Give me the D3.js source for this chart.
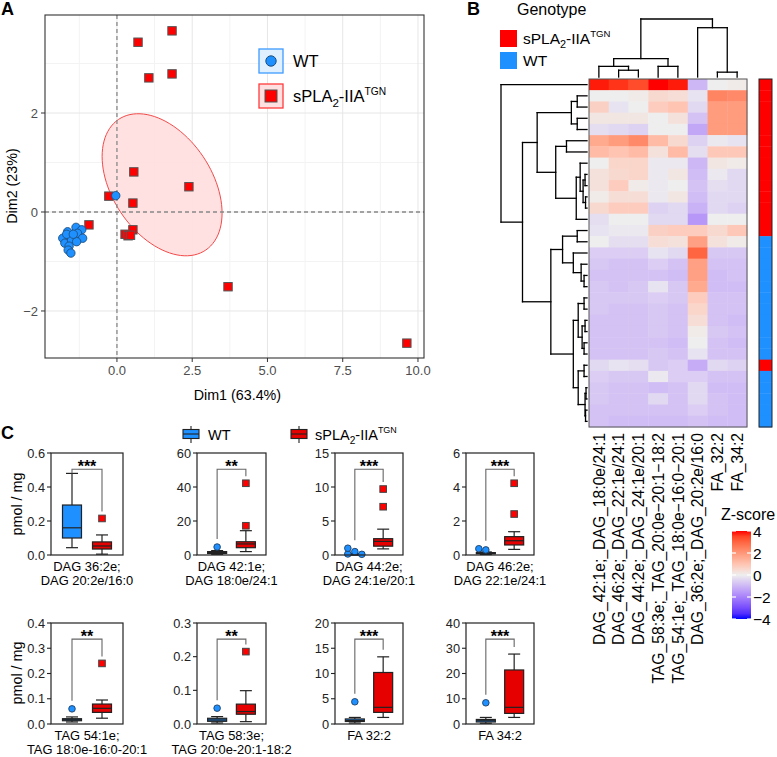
<!DOCTYPE html>
<html><head><meta charset="utf-8">
<script src="https://cdn.jsdelivr.net/npm/d3@7"></script>
<style>
body{margin:0;background:#fff}
svg text{font-family:"Liberation Sans",Arimo,Arial,Helvetica,sans-serif}
</style></head>
<body><svg id="c" width="777" height="757"></svg>
<script>
// ================= DATA =================
// Panel A: PCA individuals
const pcaTG = [[0.70,3.43],[1.83,3.66],[1.06,2.71],[1.83,2.79],[0.56,0.81],[2.39,0.51],[-0.27,0.32],[0.53,0.18],[-0.93,-0.26],[0.27,-0.45],[0.37,-0.48],[0.53,-0.36],[3.69,-1.51],[9.63,-2.65],[0.45,-0.47]];
const pcaWT = [[-0.04,0.33],[-1.36,-0.31],[-1.64,-0.40],[-1.17,-0.36],[-1.80,-0.53],[-1.56,-0.51],[-1.31,-0.43],[-1.14,-0.53],[-1.73,-0.63],[-1.51,-0.57],[-1.34,-0.60],[-1.59,-0.69],[-1.62,-0.77],[-1.53,-0.83],[-1.67,-0.45],[-1.45,-0.45]];
const ellipseCenter = [1.50, 0.55];
const ellipseShape = [[3.97,-1.14],[-1.14,2.06]];
const pcaXTicks = [0,2.5,5,7.5,10];
const pcaYTicks = [-2,0,2];

// Panel B: heatmap
const heatCols = ["DAG_42:1e;_DAG_18:0e/24:1","DAG_46:2e;_DAG_22:1e/24:1","DAG_44:2e;_DAG_24:1e/20:1","TAG_58:3e;_TAG_20:0e\u221220:1\u221218:2","TAG_54:1e;_TAG_18:0e\u221216:0\u221220:1","DAG_36:2e;_DAG_20:2e/16:0","FA_32:2","FA_34:2"];
const heatZ = [
[3.9,3.7,3.4,4.0,3.9,-1.0,0.0,0.1],
[0.0,0.0,0.1,0.5,0.4,-0.2,2.4,2.3],
[0.7,-0.2,0.0,0.8,1.0,-0.4,1.9,1.9],
[0.2,0.2,0.2,0.0,0.3,-0.8,1.9,1.9],
[-0.3,-0.4,-0.5,0.0,0.0,-1.3,1.9,1.9],
[1.6,1.9,2.3,1.2,0.5,-0.5,-0.1,-0.2],
[1.2,1.0,1.2,0.3,1.2,-0.3,0.9,0.9],
[0.0,0.6,0.6,-0.1,-0.1,-1.0,0.2,0.1],
[0.3,0.5,0.6,-0.1,0.2,-0.9,-0.1,-0.4],
[0.3,0.8,0.1,-0.1,0.0,-0.8,-0.3,-0.4],
[0.1,0.4,0.4,-0.1,0.2,-0.9,-0.4,-0.4],
[0.5,0.8,0.8,-0.5,-0.4,-1.1,-0.4,-0.5],
[-0.3,0.0,0.0,-0.4,-0.4,-1.6,0.0,0.0],
[-0.2,-0.1,-0.1,0.7,0.8,0.8,0.5,0.9],
[0.0,-0.3,-0.3,0.4,0.3,1.8,0.3,0.1],
[-0.6,-0.6,-0.6,-0.2,-0.4,3.0,-0.7,-0.7],
[-0.7,-0.8,-0.8,-0.6,-0.8,1.8,-0.8,-0.8],
[-0.8,-0.8,-0.8,-0.8,-0.9,1.8,-0.9,-0.8],
[-0.7,-0.8,-0.7,-0.2,-0.7,1.6,-0.9,-0.9],
[-0.7,-0.7,-0.7,-0.6,-0.7,0.8,-0.8,-0.8],
[-0.7,-0.8,-0.8,-0.7,-0.8,0.6,-0.8,-0.8],
[-0.8,-0.8,-0.8,-0.7,-0.8,0.4,-0.8,-0.9],
[-0.8,-0.8,-0.8,-0.7,-0.8,0.1,-0.7,-0.8],
[-0.8,-0.8,-0.8,-0.8,-0.9,0.0,-0.8,-0.9],
[-0.8,-0.8,-0.8,-0.7,-0.8,-0.2,-0.8,-0.8],
[-0.4,-0.2,-0.3,-0.7,-0.6,-1.2,-0.4,-0.5],
[-0.6,-0.7,-0.7,-0.1,-0.6,-0.6,-0.8,-0.8],
[-0.7,-0.8,-0.8,-0.9,-0.8,-0.4,-0.9,-0.9],
[-0.7,-0.8,-0.8,-0.4,-0.8,-0.4,-0.8,-0.9],
[-0.8,-0.8,-0.8,-0.8,-0.8,-0.6,-0.8,-0.9],
[-0.8,-0.9,-0.9,-0.9,-0.9,-0.8,-0.9,-0.9]];
const genotype = ["TG","TG","TG","TG","TG","TG","TG","TG","TG","TG","TG","TG","TG","TG","WT","WT","WT","WT","WT","WT","WT","WT","WT","WT","WT","TG","WT","WT","WT","WT","WT"];
// dendrograms: leaves = indices, nodes = {h: merge height, c: children}
const rowTree = {h:88,c:[0,{h:66,c:[
  {h:51,c:[
    {h:16,c:[{h:10,c:[1,2]},{h:10,c:[3,4]}]},
    {h:32,c:[{h:21,c:[5,6]},{h:11,c:[{h:7,c:[7,{h:4,c:[{h:2,c:[8,9]},{h:1.5,c:[10,11]}]}]},12]}]}]},
  {h:37,c:[
    {h:25,c:[{h:10,c:[13,14]},{h:14,c:[15,{h:6,c:[16,{h:3,c:[17,18]}]}]}]},
    {h:14,c:[
      {h:9,c:[{h:3,c:[19,20]},{h:5,c:[{h:2,c:[21,22]},{h:3,c:[23,24]}]}]},
      {h:9,c:[{h:3,c:[25,26]},{h:2,c:[{h:1,c:[27,28]},{h:1.5,c:[29,30]}]}]}]}]}]}]};
const colTree = {h:60,c:[{h:19,c:[{h:11,c:[0,{h:7,c:[1,2]}]},{h:11,c:[3,4]}]},{h:51,c:[5,{h:5,c:[6,7]}]}]};
const zTicks = [4,2,0,-2,-4];

// Panel C: boxplots
const boxLine1 = ["DAG 36:2e;","DAG 42:1e;","DAG 44:2e;","DAG 46:2e;","TAG 54:1e;","TAG 58:3e;","FA 32:2","FA 34:2"];
const boxLine2 = ["DAG 20:2e/16:0","DAG 18:0e/24:1","DAG 24:1e/20:1","DAG 22:1e/24:1","TAG 18:0e-16:0-20:1","TAG 20:0e-20:1-18:2","",""];
const boxYMax = [0.6,60,15,6,0.4,0.3,20,40];
const boxYStep = [0.2,20,5,2,0.1,0.1,5,10];
const boxStars = ["***","**","***","***","**","**","***","***"];
// [whisker low, q1, median, q3, whisker high]
const wtStats = [[0.043,0.10,0.16,0.294,0.48],[0.4,0.9,1.4,2.0,2.6],[0.02,0.06,0.1,0.14,0.2],[0.03,0.07,0.1,0.14,0.18],[0.008,0.013,0.017,0.021,0.028],[0.003,0.008,0.012,0.017,0.022],[0.2,0.5,0.7,1.0,1.3],[0.3,0.8,1.3,1.8,2.6]];
const wtOut = [[],[4.7],[0.5,0.15,1.0,0.1],[0.3,0.37],[0.06],[0.047],[4.4],[8.4]];
const tgStats = [[0.005,0.035,0.053,0.077,0.118],[2.0,4.3,6.5,7.8,14.3],[0.9,1.3,2.0,2.4,3.8],[0.33,0.59,0.84,1.08,1.37],[0.023,0.046,0.062,0.079,0.095],[0.007,0.029,0.037,0.059,0.099],[1.3,2.3,3.3,10.2,13.3],[2.6,4.2,6.6,21.4,27.7]];
const tgOut = [[0.215],[17.2,42.2],[7.1,9.7],[2.41,4.22],[0.240],[0.215],[],[]];

// ================= DRAW =================
const svg = d3.select("#c");
const BLUE = "#1e90ff", RED = "#ff0000", BOXRED = "#e60000";
const fs = s => s;

function splaLabel(sel, size) {
  sel.append("tspan").text("sPLA");
  sel.append("tspan").attr("font-size", fs(size*0.7)).attr("dy", size*0.28).text("2");
  sel.append("tspan").attr("dy", -size*0.28).text("-IIA");
  sel.append("tspan").attr("font-size", fs(size*0.62)).attr("dy", -size*0.42).text("TGN");
}

// ---------- Panel A ----------
const xA = d3.scaleLinear().domain([-2.39,10.2]).range([45,424]);
const yA = d3.scaleLinear().domain([-2.95,3.98]).range([358,15]);
const gA = svg.append("g");
const minorX = [-1.25,1.25,3.75,6.25,8.75], minorY = [-3,-1,1,3];
gA.selectAll(".mx").data(minorX).join("line").attr("x1",d=>xA(d)).attr("x2",d=>xA(d)).attr("y1",15).attr("y2",358).attr("stroke","#f3f3f3");
gA.selectAll(".my").data(minorY.filter(d=>yA(d)>15&&yA(d)<358)).join("line").attr("y1",d=>yA(d)).attr("y2",d=>yA(d)).attr("x1",45).attr("x2",424).attr("stroke","#f3f3f3");
gA.selectAll(".gx").data(pcaXTicks).join("line").attr("x1",d=>xA(d)).attr("x2",d=>xA(d)).attr("y1",15).attr("y2",358).attr("stroke","#e6e6e6");
gA.selectAll(".gy").data(pcaYTicks).join("line").attr("y1",d=>yA(d)).attr("y2",d=>yA(d)).attr("x1",45).attr("x2",424).attr("stroke","#e6e6e6");
// ellipse
const L11 = Math.sqrt(ellipseShape[0][0]);
const L21 = ellipseShape[1][0]/L11;
const L22 = Math.sqrt(ellipseShape[1][1]-L21*L21);
const ellPts = d3.range(0,101).map(i=>{const t=i/100*2*Math.PI; return [ellipseCenter[0]+L11*Math.cos(t), ellipseCenter[1]+L21*Math.cos(t)+L22*Math.sin(t)];});
gA.append("path").attr("d", d3.line().x(d=>xA(d[0])).y(d=>yA(d[1]))(ellPts)+"Z")
  .attr("fill","#ffdede").attr("fill-opacity",0.9).attr("stroke","#f24a4a").attr("stroke-width",1);
// zero lines
gA.append("line").attr("x1",xA(0)).attr("x2",xA(0)).attr("y1",15).attr("y2",358).attr("stroke","#888").attr("stroke-width",1.3).attr("stroke-dasharray","4,3");
gA.append("line").attr("y1",yA(0)).attr("y2",yA(0)).attr("x1",45).attr("x2",424).attr("stroke","#888").attr("stroke-width",1.3).attr("stroke-dasharray","4,3");
// points
gA.selectAll(".sq").data(pcaTG).join("rect").attr("x",d=>xA(d[0])-4.2).attr("y",d=>yA(d[1])-4.2).attr("width",8.4).attr("height",8.4)
  .attr("fill",RED).attr("stroke","#555").attr("stroke-width",1);
gA.selectAll(".ci").data(pcaWT).join("circle").attr("cx",d=>xA(d[0])).attr("cy",d=>yA(d[1])).attr("r",4.2)
  .attr("fill",BLUE).attr("stroke","#1d4f80").attr("stroke-width",0.9);
// border
gA.append("rect").attr("x",45).attr("y",15).attr("width",379).attr("height",343).attr("fill","none").attr("stroke","#333").attr("stroke-width",1.1);
// axes
gA.selectAll(".xt").data(pcaXTicks).join("line").attr("x1",d=>xA(d)).attr("x2",d=>xA(d)).attr("y1",358).attr("y2",362).attr("stroke","#333");
gA.selectAll(".xl").data(pcaXTicks).join("text").attr("x",d=>xA(d)).attr("y",375).attr("text-anchor","middle").attr("font-size",fs(13)).attr("fill","#4d4d4d").text(d3.format(".1f"));
gA.selectAll(".yt").data(pcaYTicks).join("line").attr("y1",d=>yA(d)).attr("y2",d=>yA(d)).attr("x1",41).attr("x2",45).attr("stroke","#333");
gA.selectAll(".yl").data(pcaYTicks).join("text").attr("x",38).attr("y",d=>yA(d)).attr("dy","0.36em").attr("text-anchor","end").attr("font-size",fs(13)).attr("fill","#4d4d4d").text(d=>d<0?"\u2212"+Math.abs(d):d);
gA.append("text").attr("x",xA(4)).attr("y",400).attr("text-anchor","middle").attr("font-size",fs(14.3)).text("Dim1 (63.4%)");
gA.append("text").attr("transform","translate(17,186) rotate(-90)").attr("text-anchor","middle").attr("font-size",fs(14.3)).text("Dim2 (23%)");
// legend
const legA = [{k:"WT",y:61},{k:"TG",y:96}];
legA.forEach(l=>{
  gA.append("rect").attr("x",259).attr("y",l.y-12).attr("width",24).attr("height",24)
    .attr("fill",l.k==="WT"?"#e1f0ff":"#ffe0e0").attr("stroke",l.k==="WT"?"#3d9bff":"#ff3b3b").attr("stroke-width",1.3);
  if(l.k==="WT") gA.append("circle").attr("cx",271).attr("cy",l.y).attr("r",5.2).attr("fill",BLUE).attr("stroke","#1d4f80");
  else gA.append("rect").attr("x",265).attr("y",l.y-6).attr("width",12).attr("height",12).attr("fill",RED).attr("stroke","#555");
  const t = gA.append("text").attr("x",293).attr("y",l.y+6).attr("font-size",fs(16.5));
  if(l.k==="WT") t.text("WT"); else splaLabel(t,16.5);
});
svg.append("text").attr("x",1).attr("y",15).attr("font-size",fs(18)).attr("font-weight","bold").text("A");

// ---------- Panel B ----------
const gB = svg.append("g");
svg.append("text").attr("x",467).attr("y",15).attr("font-size",fs(18)).attr("font-weight","bold").text("B");
const hx = d3.scaleBand().domain(d3.range(heatCols.length)).range([589,747]);
const hy = d3.scaleBand().domain(d3.range(heatZ.length)).range([79,427]);
const zColor = d3.scaleLinear().domain([-4,0,4]).range(["#0000ff","#eeeeee","#ff0000"]).interpolate(d3.interpolateLab).clamp(true);
heatZ.forEach((row,i)=>{
  gB.selectAll(null).data(row).join("rect").attr("x",(d,j)=>hx(j)).attr("y",hy(i)).attr("width",hx.bandwidth()+0.4).attr("height",hy.bandwidth()+0.4).attr("fill",d=>zColor(d));
});
gB.append("rect").attr("x",589).attr("y",79).attr("width",158).attr("height",348).attr("fill","none").attr("stroke","#555").attr("stroke-width",1);
// genotype bar
gB.selectAll(".gt").data(genotype).join("rect").attr("x",759).attr("y",(d,i)=>hy(i)).attr("width",13).attr("height",hy.bandwidth()+0.4).attr("fill",d=>d==="TG"?RED:BLUE);
gB.append("rect").attr("x",759).attr("y",79).attr("width",13).attr("height",348).attr("fill","none").attr("stroke","#222").attr("stroke-width",1);
// dendrograms
function dendroSegs(tree, leafPos){
  const segs=[];
  (function rec(n){
    if(typeof n==="number") return {p:leafPos(n),h:0};
    const k=n.c.map(rec);
    k.forEach(c=>segs.push([[c.p,c.h],[c.p,n.h]]));
    segs.push([[k[0].p,n.h],[k[k.length-1].p,n.h]]);
    return {p:d3.mean(k,c=>c.p),h:n.h};
  })(tree);
  return segs;
}
const rowH = d3.scaleLinear().domain([0,88]).range([587,501]);
const rSegs = dendroSegs(rowTree, i=>hy(i)+hy.bandwidth()/2);
gB.selectAll(".rd").data(rSegs).join("line").attr("x1",d=>rowH(d[0][1])).attr("x2",d=>rowH(d[1][1])).attr("y1",d=>d[0][0]).attr("y2",d=>d[1][0]).attr("stroke","#000").attr("stroke-width",1.3).attr("stroke-linecap","square");
const colH = d3.scaleLinear().domain([0,60]).range([77,19]);
const cSegs = dendroSegs(colTree, j=>hx(j)+hx.bandwidth()/2);
gB.selectAll(".cd").data(cSegs).join("line").attr("y1",d=>colH(d[0][1])).attr("y2",d=>colH(d[1][1])).attr("x1",d=>d[0][0]).attr("x2",d=>d[1][0]).attr("stroke","#000").attr("stroke-width",1.3).attr("stroke-linecap","square");
// column labels
gB.selectAll(".cl").data(heatCols).join("text").attr("transform",(d,j)=>`translate(${hx(j)+hx.bandwidth()/2},433) rotate(-90)`)
  .attr("text-anchor","end").attr("dy","0.36em").attr("font-size",fs(15.7)).text(d=>d);
// genotype legend
gB.append("text").attr("x",517).attr("y",15).attr("font-size",fs(16)).text("Genotype");
gB.append("rect").attr("x",500).attr("y",30).attr("width",17).attr("height",17).attr("fill",RED);
gB.append("rect").attr("x",500).attr("y",52).attr("width",17).attr("height",17).attr("fill",BLUE);
splaLabel(gB.append("text").attr("x",523).attr("y",44).attr("font-size",fs(15.5)),15.5);
gB.append("text").attr("x",523).attr("y",66).attr("font-size",fs(15.5)).text("WT");
// z legend
const zy = d3.scaleLinear().domain([4,-4]).range([531,619]);
const grad = svg.append("defs").append("linearGradient").attr("id","zg").attr("x1",0).attr("x2",0).attr("y1",0).attr("y2",1);
grad.selectAll("stop").data(d3.range(0,17)).join("stop").attr("offset",d=>d/16).attr("stop-color",d=>zColor(4-d*0.5));
gB.append("rect").attr("x",732).attr("y",zy(4)).attr("width",19).attr("height",zy(-4)-zy(4)).attr("fill","url(#zg)");
zTicks.forEach(t=>{
  gB.append("line").attr("x1",732).attr("x2",736).attr("y1",zy(t)).attr("y2",zy(t)).attr("stroke","#fff").attr("stroke-width",1.2);
  gB.append("line").attr("x1",747).attr("x2",751).attr("y1",zy(t)).attr("y2",zy(t)).attr("stroke","#fff").attr("stroke-width",1.2);
});
gB.selectAll(".zl").data(zTicks).join("text").attr("x",753).attr("y",d=>zy(d)).attr("dy","0.36em").attr("font-size",fs(15.5)).text(d=>d<0?"\u2212"+Math.abs(d):d);
gB.append("text").attr("x",721).attr("y",520).attr("font-size",fs(16)).text("Z-score");

// ---------- Panel C ----------
const gC = svg.append("g");
svg.append("text").attr("x",1).attr("y",439).attr("font-size",fs(18)).attr("font-weight","bold").text("C");
const panelL = [51,197,335,466], panelR = [123,266,403,534];
const rowTop = [453,623], rowBot = [555,724];
boxLine1.forEach((lab,i)=>{
  const col=i%4, r=Math.floor(i/4);
  const L=panelL[col], R=panelR[col], T=rowTop[r], B=rowBot[r];
  const g=gC.append("g");
  const y=d3.scaleLinear().domain([0,boxYMax[i]]).range([B,T]);
  const x=d3.scalePoint().domain(["WT","TG"]).range([L,R]).padding(0.7);
  const bw=19;
  const ticks=d3.range(0,boxYMax[i]+boxYStep[i]/2,boxYStep[i]);
  const fmt = boxYMax[i]<1? d3.format(".1f"): d3.format("d");
  g.selectAll(".t").data(ticks).join("line").attr("x1",L-4).attr("x2",L).attr("y1",d=>y(d)).attr("y2",d=>y(d)).attr("stroke","#222").attr("stroke-width",1.1);
  g.selectAll(".tl").data(ticks).join("text").attr("x",L-6).attr("y",d=>y(d)).attr("dy","0.36em").attr("text-anchor","end").attr("font-size",fs(12.8)).attr("fill","#222").text(fmt);
  // boxes
  [["WT",wtStats[i],wtOut[i]],["TG",tgStats[i],tgOut[i]]].forEach(([k,s,out])=>{
    const cx=x(k), fill=k==="WT"?BLUE:BOXRED;
    g.append("line").attr("x1",cx).attr("x2",cx).attr("y1",y(s[0])).attr("y2",y(s[4])).attr("stroke","#222").attr("stroke-width",1.2);
    [s[0],s[4]].forEach(v=>g.append("line").attr("x1",cx-6).attr("x2",cx+6).attr("y1",y(v)).attr("y2",y(v)).attr("stroke","#222").attr("stroke-width",1.2));
    g.append("rect").attr("x",cx-bw/2).attr("y",y(s[3])).attr("width",bw).attr("height",Math.max(1,y(s[1])-y(s[3]))).attr("fill",fill).attr("stroke","#222").attr("stroke-width",1.2);
    g.append("line").attr("x1",cx-bw/2).attr("x2",cx+bw/2).attr("y1",y(s[2])).attr("y2",y(s[2])).attr("stroke","#222").attr("stroke-width",1.2);
    // outliers with simple dodge
    const placed=[];
    out.forEach(v=>{
      const py=y(v); let off=0;
      for(const o of [0,-7,7,-14,14]){ if(placed.every(p=>Math.hypot(p[0]-(cx+o),p[1]-py)>=5)){off=o;break;} }
      placed.push([cx+off,py]);
    });
    if(k==="WT") g.selectAll(null).data(placed).join("circle").attr("cx",d=>d[0]).attr("cy",d=>d[1]).attr("r",3.3).attr("fill",BLUE).attr("stroke","#1d3f66").attr("stroke-width",0.9);
    else g.selectAll(null).data(placed).join("rect").attr("x",d=>d[0]-3.3).attr("y",d=>d[1]-3.3).attr("width",6.6).attr("height",6.6).attr("fill",RED).attr("stroke","#444").attr("stroke-width",1);
  });
  // frame
  g.append("rect").attr("x",L).attr("y",T).attr("width",R-L).attr("height",B-T).attr("fill","none").attr("stroke","#222").attr("stroke-width",1.2);
  // bracket
  const by=y(boxYMax[i]*0.84);
  const wtMax=d3.max([wtStats[i][4],...wtOut[i]]), tgMax=d3.max([tgStats[i][4],...tgOut[i]]);
  const leg1=Math.max(by+4,y(wtMax)-8), leg2=Math.max(by+4,y(tgMax)-7);
  g.append("path").attr("d",`M${x("WT")},${leg1}V${by}H${x("TG")}V${leg2}`).attr("fill","none").attr("stroke","#666").attr("stroke-width",1.1);
  g.append("text").attr("x",(x("WT")+x("TG"))/2).attr("y",by+3).attr("text-anchor","middle").attr("font-size",fs(16)).attr("font-weight","bold").text(boxStars[i]);
  // labels
  const cxp=(L+R)/2;
  g.append("text").attr("x",cxp).attr("y",B+16).attr("text-anchor","middle").attr("font-size",fs(12.9)).text(lab);
  if(boxLine2[i]) g.append("text").attr("x",cxp).attr("y",B+30).attr("text-anchor","middle").attr("font-size",fs(12.9)).text(boxLine2[i]);
});
[504,673].forEach(cy=>gC.append("text").attr("transform",`translate(22,${cy}) rotate(-90)`).attr("text-anchor","middle").attr("font-size",fs(14.3)).text("pmol / mg"));
// legend C
[["WT",191,208],["TG",299,315]].forEach(([k,kx,tx])=>{
  gC.append("line").attr("x1",kx).attr("x2",kx).attr("y1",426).attr("y2",443).attr("stroke","#222").attr("stroke-width",1.1);
  gC.append("rect").attr("x",kx-8).attr("y",429.5).attr("width",16).attr("height",9).attr("fill",k==="WT"?BLUE:BOXRED).attr("stroke","#222").attr("stroke-width",1.1);
  gC.append("line").attr("x1",kx-8).attr("x2",kx+8).attr("y1",434).attr("y2",434).attr("stroke","#222").attr("stroke-width",1.1);
  const t=gC.append("text").attr("x",tx).attr("y",439.5).attr("font-size",fs(14.5));
  if(k==="WT") t.text("WT"); else splaLabel(t,14.5);
});
</script></body></html>
